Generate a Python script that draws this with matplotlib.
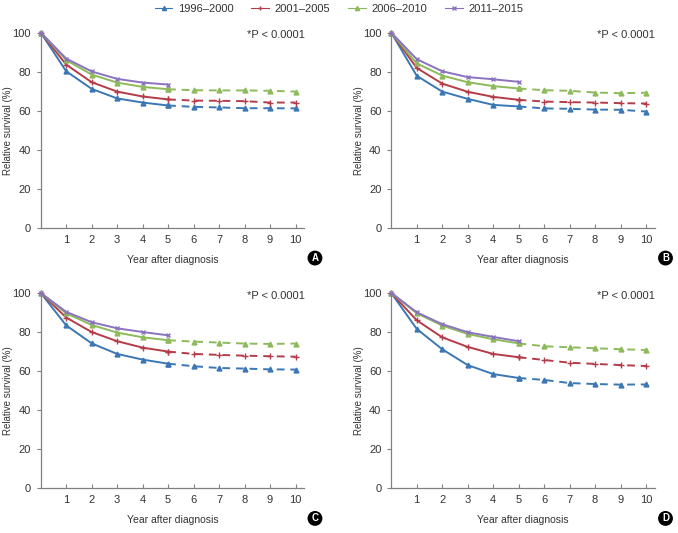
import matplotlib.pyplot as plt
import numpy as np

plt.rcParams['font.family'] = ['Liberation Sans', 'DejaVu Sans']

years = [0, 1, 2, 3, 4, 5, 6, 7, 8, 9, 10]
periods = ['1996\u20132000', '2001\u20132005', '2006\u20132010', '2011\u20132015']

# relative survival (%) per panel, per period
a_9600 = [100, 80.2, 71.2, 66.3, 64.2, 62.7, 62.0, 61.7, 61.3, 61.3, 61.2]
a_0105 = [100, 83.6, 74.6, 69.8, 67.3, 65.8, 65.2, 65.1, 64.9, 64.2, 64.2]
a_0610 = [100, 85.9, 78.5, 74.4, 72.2, 71.0, 70.5, 70.4, 70.4, 70.2, 69.8]
a_1115 = [100, 86.7, 80.1, 76.3, 74.4, 73.4]

b_9600 = [100, 77.9, 69.8, 66.1, 63.0, 62.2, 61.2, 61.0, 60.6, 60.5, 59.6]
b_0105 = [100, 81.9, 73.9, 69.7, 67.1, 65.6, 64.7, 64.4, 64.2, 63.9, 63.7]
b_0610 = [100, 84.2, 78.0, 74.6, 72.6, 71.4, 70.5, 70.2, 69.3, 69.0, 69.2]
b_1115 = [100, 86.4, 80.2, 77.2, 76.1, 74.8]

c_9600 = [100, 83.4, 74.2, 68.8, 65.9, 63.8, 62.5, 61.6, 61.3, 60.9, 60.8]
c_0105 = [100, 87.4, 80.0, 75.3, 72.0, 70.0, 68.8, 68.3, 67.9, 67.6, 67.4]
c_0610 = [100, 89.6, 83.6, 79.7, 77.3, 75.8, 75.1, 74.6, 74.1, 73.9, 74.1]
c_1115 = [100, 90.3, 85.0, 81.9, 80.0, 78.3]

d_9600 = [100, 81.6, 71.2, 63.1, 58.5, 56.5, 55.5, 53.9, 53.4, 53.1, 53.2]
d_0105 = [100, 86.0, 77.3, 72.4, 68.8, 67.1, 65.7, 64.3, 63.7, 63.1, 62.6]
d_0610 = [100, 89.6, 83.3, 79.0, 76.3, 74.2, 72.7, 72.2, 71.7, 71.2, 70.8]
d_1115 = [100, 90.1, 84.0, 79.9, 77.5, 75.3]

panels = [('A', [a_9600, a_0105, a_0610, a_1115]),
          ('B', [b_9600, b_0105, b_0610, b_1115]),
          ('C', [c_9600, c_0105, c_0610, c_1115]),
          ('D', [d_9600, d_0105, d_0610, d_1115])]

colors = ['#3b77b4', '#b43c48', '#8dba5b', '#8a73c0']
markers = ['^', '+', '^', 'x']
msizes = [3.5, 4, 3.5, 3.5]

positions = [(0.060, 0.572), (0.577, 0.572), (0.060, 0.0835), (0.577, 0.0835)]
txt = '#333333'
spine = '#808080'

fig = plt.figure(figsize=(6.78, 5.33), dpi=100)

for (letter, series), (x0, y0) in zip(panels, positions):
    ax = fig.add_axes([x0, y0, 0.389, 0.367])
    for vals, c, m, ms in zip(series, colors, markers, msizes):
        n = len(vals)
        ax.plot(years[:min(n, 6)], vals[:6], '-', color=c, lw=1.4,
                marker=m, ms=ms, mew=1.0, clip_on=False)
        if n > 6:
            ax.plot(years[5:], vals[5:], '--', color=c, lw=1.4,
                    dashes=(4, 3), marker=m, ms=ms, mew=1.0, clip_on=False)
    ax.set_xlim(0, 10.35)
    ax.set_ylim(0, 100)
    ax.set_xticks(years[1:])
    ax.set_yticks(np.arange(0, 101, 20))
    for s in ['top', 'right']:
        ax.spines[s].set_visible(False)
    for s in ['left', 'bottom']:
        ax.spines[s].set_color(spine)
        ax.spines[s].set_linewidth(0.9)
    ax.tick_params(axis='x', direction='in', length=3, color=spine,
                   labelsize=8, labelcolor=txt, pad=5)
    ax.tick_params(axis='y', direction='out', length=3, color=spine,
                   labelsize=8, labelcolor=txt, pad=4)
    ax.set_xlabel('Year after diagnosis', fontsize=7.5, color=txt, labelpad=7)
    ax.set_ylabel('Relative survival (%)', fontsize=7, color=txt)
    ax.yaxis.set_label_coords(-0.104, 0.5)
    ax.text(1.0, 0.985, '*P < 0.0001', transform=ax.transAxes, ha='right',
            va='center', fontsize=8, color=txt)
    # panel letter badge
    ax.text(1.04, -0.153, letter, transform=ax.transAxes, ha='center',
            va='center', fontsize=7, color='white', fontweight='bold',
            bbox=dict(boxstyle='circle,pad=0.25', fc='black', ec='none'))

handles = [plt.Line2D([], [], color=c, marker=m, ms=3, lw=0.8)
           for c, m in zip(colors, markers)]
fig.legend(handles, periods, loc='upper center', bbox_to_anchor=(0.5, 1.012),
           ncol=4, frameon=False, fontsize=8, handlelength=1.6,
           columnspacing=1.6, handletextpad=0.5, labelcolor=txt)

fig.savefig('out.png', dpi=100)
